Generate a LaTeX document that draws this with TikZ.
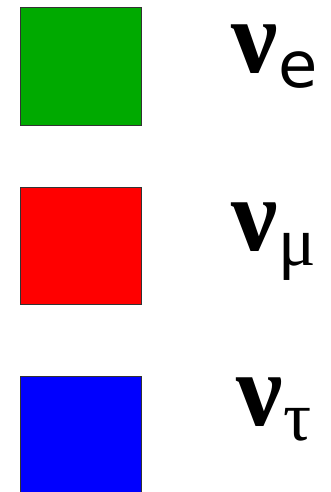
\documentclass[tikz,border=0pt]{standalone}
\usepackage{fontspec}
\setmainfont{DejaVu Sans}
\newfontfamily\greekfont{Liberation Serif}
\usepackage{xcolor}
\usetikzlibrary{positioning}
\definecolor{nugreen}{HTML}{00AA00}
\definecolor{nured}{HTML}{FF0000}
\definecolor{nublue}{HTML}{0000FF}
\newcommand{\flav}[1]{{\greekfont\bfseries\fontsize{104}{104}\selectfont ν}\kern1pt\raisebox{-15pt}{\fontsize{64}{64}\selectfont #1}}

\begin{document}
\begin{tikzpicture}[x=1pt,y=-1pt]
\tikzset{sq/.style={draw=black!80,line width=1pt,minimum width=121pt,minimum height=117pt,inner sep=0pt},
  lab/.style={anchor=base west,inner sep=0pt}}
\useasboundingbox (0,0) rectangle (331,492);
\node[sq,fill=nugreen] (sqe) at (80.5,66.5) {};
\node[sq,fill=nured] (sqmu) at (80.5,246) {};
\node[sq,fill=nublue] (sqtau) at (80.5,434.5) {};
\node[lab] (labe) at (231,73) {\flav{e}};
\node[lab] (labmu) at (231,250) {\flav{{\greekfont\fontsize{70}{70}\selectfont μ}}};
\node[lab] (labtau) at (236,425) {\flav{{\greekfont\fontsize{70}{70}\selectfont τ}}};
\end{tikzpicture}
\end{document}
